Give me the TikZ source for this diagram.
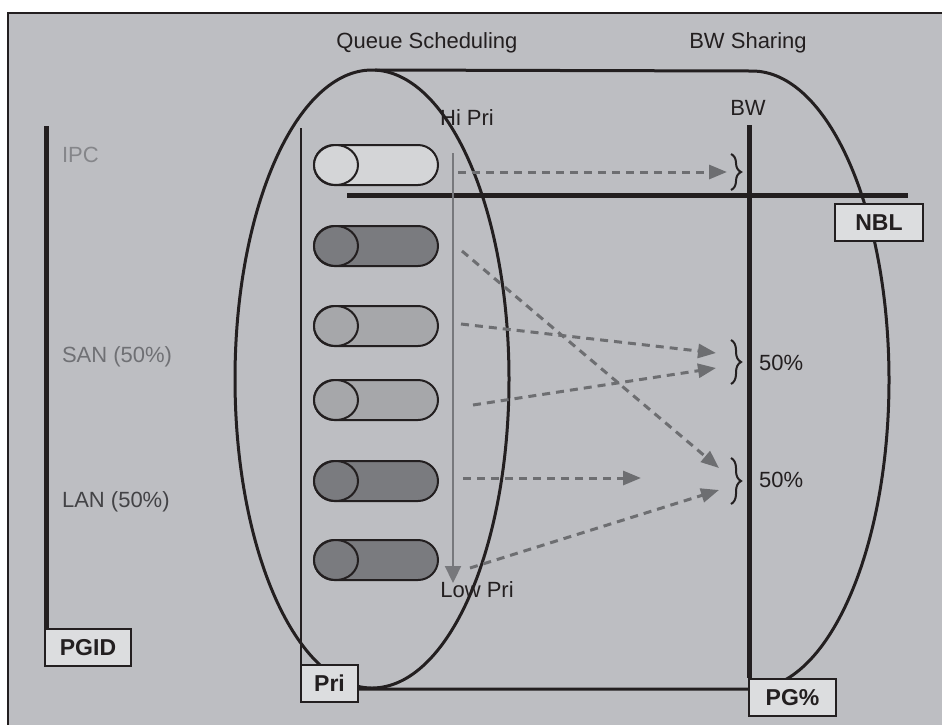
\documentclass[tikz,border=0pt]{standalone}
\usepackage{fontspec}
\setmainfont{Liberation Sans}
\usetikzlibrary{arrows.meta,decorations.pathreplacing}
\definecolor{cpanel}{HTML}{BDBEC2}
\definecolor{cink}{HTML}{231F20}
\definecolor{cdash}{HTML}{6D6E71}
\definecolor{cprio}{HTML}{77787C}
\definecolor{cipc}{HTML}{85868A}
\definecolor{csan}{HTML}{6F7074}
\definecolor{clan}{HTML}{434346}
\definecolor{clight}{HTML}{D4D5D7}
\definecolor{cmid}{HTML}{A6A7AA}
\definecolor{cdark}{HTML}{7A7B7F}
\definecolor{cbox}{HTML}{DCDDDF}
\tikzset{
  bar/.style={cink,line width=2.5pt},
  rim/.style={cink,line width=1.5pt},
  flow/.style={cdash,line width=1.5pt,dash pattern=on 4pt off 3pt,-{Triangle[length=9pt,width=7pt]}},
  tag/.style={draw=cink,fill=cbox,line width=1pt,font=\fontsize{11.5}{13}\selectfont\bfseries,
    text=cink,minimum height=18.5pt,inner sep=0pt,anchor=north west},
  brc/.style={cink,line width=1pt,decorate,decoration={brace,amplitude=5pt}}
}
% queue capsule: name of its right end, centre y, fill
\newcommand{\capsule}[3]{%
  \draw[cink,fill=#3,line width=1pt,rounded corners=10pt] (314,#2-20) rectangle (438,#2+20);
  \draw[cink,fill=#3,line width=1pt] (336,#2) ellipse [x radius=11pt,y radius=10pt];
  \coordinate (#1) at (438,#2);}

\begin{document}
\begin{tikzpicture}[x=0.5pt,y=-0.5pt,font=\fontsize{11}{13}\selectfont,text=cink]
\useasboundingbox (0,0) rectangle (942,725);
\fill[cpanel] (8,13) rectangle (942,725);
\draw[cink,line width=1pt] (942,13) -- (8,13) -- (8,725);

% the cylinder: scheduling face and bandwidth side
\draw[rim] (372,379) ellipse [x radius=68.5pt,y radius=154.5pt];
\draw[rim] (357,689) -- (752,689) arc[start angle=-90,end angle=90,x radius=68.5pt,y radius=154.5pt] -- (375,70);

\node (qs) at (427,43) {Queue Scheduling};
\node (bws) at (748,43) {BW Sharing};
\node (bw) at (748,108) {BW};
\node (hi) at (467,118) {Hi Pri};
\node (lo) at (477,590) {Low Pri};

% labels on the axes
\node[tag,minimum width=43pt] (pgid) at (44,628) {PGID};
\node[tag,minimum width=28.5pt] (pri) at (300,664) {Pri};
\node[tag,minimum width=44pt] (nbl) at (834,203) {NBL};
\node[tag,minimum width=43.5pt] (pg) at (748,678) {PG\%};

\coordinate (pgidtop) at (46.5,126);
\draw[bar] (pgidtop) -- (pgidtop |- pgid.north);
\coordinate (pritop) at (300.5,128);
\draw[cink,line width=1pt] (pritop) -- (pritop |- pri.north);
\coordinate (bwtop) at (749.5,125);
\draw[bar] (bwtop) -- (bwtop |- pg.north);
\coordinate (nblw) at (347,195);
\coordinate (nble) at (908,195);
\draw[bar] (nblw) -- (nble);

\node[anchor=west,text=cipc] (ipc) at (55,155) {IPC};
\node[anchor=west,text=csan] (san) at (55,357) {SAN (50\%)};
\node[anchor=west,text=clan] (lan) at (55,502) {LAN (50\%)};

% queues, high to low priority
\capsule{q1}{165}{clight}
\capsule{q2}{246}{cdark}
\capsule{q3}{326}{cmid}
\capsule{q4}{400}{cmid}
\capsule{q5}{481}{cdark}
\capsule{q6}{560}{cdark}

\coordinate (ptop) at (453,153);
\coordinate (pbot) at (453,583);
\draw[cprio,line width=1.1pt,-{Triangle[length=8.5pt,width=8pt]}] (ptop) -- (pbot);

% shares
\draw[brc] (731,154) -- (731,190);
\draw[brc] (731,340) -- (731,384);
\draw[brc] (731,458) -- (731,504);
\node[anchor=west] (san50) at (752,363) {50\%};
\node[anchor=west] (lan50) at (752,480) {50\%};

\coordinate (s1) at (458,172);
\coordinate (s2) at (462,251);
\coordinate (s3) at (461,324);
\coordinate (s4) at (473,405);
\coordinate (s5) at (463,478);
\coordinate (s6) at (470,568);
\coordinate (ipcin) at (727,172);
\coordinate (sanin1) at (716,353);
\coordinate (sanin2) at (716,368);
\coordinate (lanin1) at (719,468);
\coordinate (lanin2) at (719,490);
\coordinate (held) at (641,478);
\draw[flow] (s1) -- (ipcin);
\draw[flow] (s2) -- (lanin1);
\draw[flow] (s3) -- (sanin1);
\draw[flow] (s4) -- (sanin2);
\draw[flow] (s5) -- (held);
\draw[flow] (s6) -- (lanin2);
\end{tikzpicture}
\end{document}
